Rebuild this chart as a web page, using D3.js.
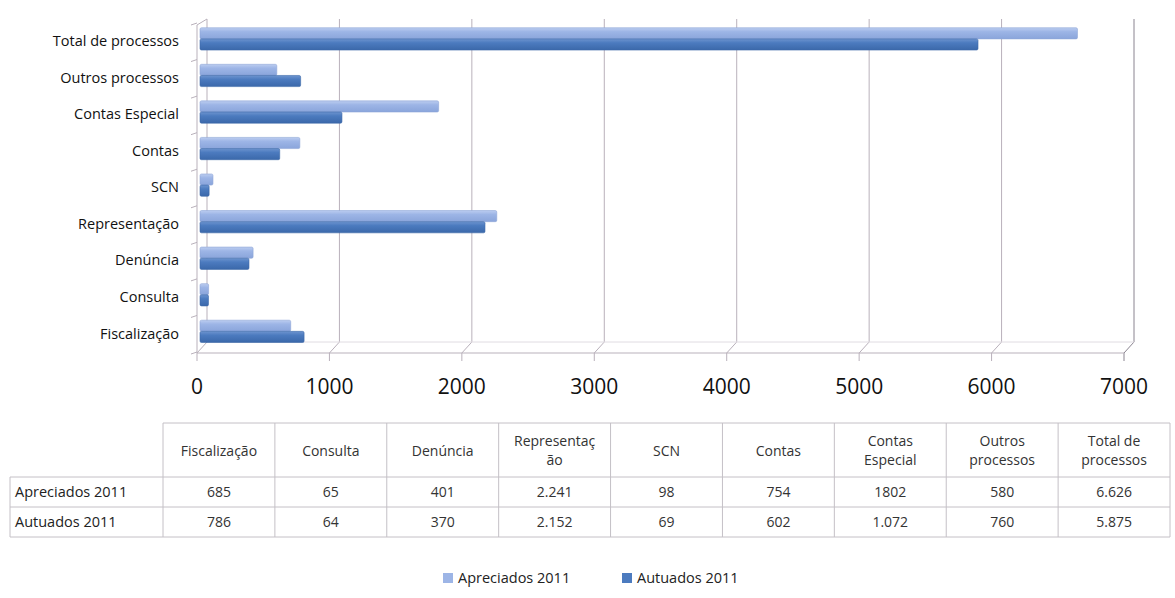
<!DOCTYPE html>
<html>
<head>
<meta charset="utf-8">
<script src="https://cdn.jsdelivr.net/npm/d3@7"></script>
<style>
  html, body { margin: 0; padding: 0; background: #fff; }
  svg { display: block; font-family: "Open Sans", "Noto Sans", sans-serif; }
</style>
</head>
<body>
<svg id="chart" width="1175" height="598"></svg>
<script>
const categories = ["Fiscalização", "Consulta", "Denúncia", "Representação", "SCN", "Contas", "Contas Especial", "Outros processos", "Total de processos"];
const headerLabels = ["Fiscalização", "Consulta", "Denúncia", "Representaç\não", "SCN", "Contas", "Contas\nEspecial", "Outros\nprocessos", "Total de\nprocessos"];
const seriesNames = ["Apreciados 2011", "Autuados 2011"];
const apreciados = [685, 65, 401, 2241, 98, 754, 1802, 580, 6626];
const autuados = [786, 64, 370, 2152, 69, 602, 1072, 760, 5875];
const apreciadosText = ["685", "65", "401", "2.241", "98", "754", "1802", "580", "6.626"];
const autuadosText = ["786", "64", "370", "2.152", "69", "602", "1.072", "760", "5.875"];
const xTicks = [0, 1000, 2000, 3000, 4000, 5000, 6000, 7000];

const colors = ["#9db5e6", "#4c7bbf"];
const svg = d3.select("#chart");

const defs = svg.append("defs");
[["g0", "#bccdf0", "#9db5e6", "#8aa5db"], ["g1", "#6d94cf", "#4c7bbf", "#3b68aa"]].forEach(([id, a, b, c]) => {
  const g = defs.append("linearGradient").attr("id", id).attr("x1", 0).attr("y1", 0).attr("x2", 0).attr("y2", 1);
  g.append("stop").attr("offset", "0%").attr("stop-color", a);
  g.append("stop").attr("offset", "35%").attr("stop-color", b);
  g.append("stop").attr("offset", "100%").attr("stop-color", c);
});

const x = d3.scaleLinear().domain([0, 7000]).range([200, 1127]);
const y = d3.scaleBand().domain(categories.slice().reverse()).range([23, 352]);
const sub = d3.scaleBand().domain(seriesNames).range([y.bandwidth() * 0.13, y.bandwidth() * 0.74]);

const backTop = 19, backBottom = 342, front = 353, depthX = 7;

svg.append("g").selectAll("path").data(xTicks).join("path")
  .attr("d", d => `M${x(d) + depthX},${backTop} V${backBottom} L${x(d) - 3},${front} V${front + 8}`)
  .attr("fill", "none").attr("stroke", d => d === 7000 ? "#8a8490" : "#b9b1bb").attr("stroke-width", 1);

svg.append("path").attr("d", `M${x(0) - 3},${front} H${x(7000) - 3}`).attr("stroke", "#b9b1bb").attr("fill", "none");
svg.append("path").attr("d", `M${x(0) + depthX},${backBottom} H${x(7000) + depthX}`).attr("stroke", "#e0dce2").attr("fill", "none");

svg.append("path").attr("d", `M${x(0) - 3},${backTop + 6} L${x(0) + depthX},${backTop} M${x(0) - 3},${backTop + 6} V${front}`)
  .attr("stroke", "#b9b1bb").attr("fill", "none");
const bounds = categories.map(c => y(c)).concat([y.range()[1]]);
svg.append("g").selectAll("line").data(bounds).join("line")
  .attr("x1", x(0) - 9).attr("x2", x(0) - 3).attr("y1", d => d + 2).attr("y2", d => d)
  .attr("stroke", "#b9b1bb");

const seriesData = [apreciados, autuados];
seriesData.forEach((vals, si) => {
  svg.append("g").selectAll("rect").data(categories).join("rect")
    .attr("x", x(0))
    .attr("y", c => y(c) + sub(seriesNames[si]))
    .attr("width", (c, i) => x(vals[i]) - x(0))
    .attr("height", sub.bandwidth())
    .attr("rx", 1.5)
    .attr("fill", `url(#g${si})`)
    .attr("stroke", si === 0 ? "#8ea6d6" : "#3e6aa9").attr("stroke-width", 0.6);
});

svg.append("g").selectAll("text").data(categories).join("text")
  .attr("x", 179).attr("y", c => y(c) + y.bandwidth() / 2 + 1)
  .attr("text-anchor", "end").attr("dominant-baseline", "middle")
  .attr("font-size", 14.5).attr("fill", "#111").text(c => c);

svg.append("g").selectAll("text").data(xTicks).join("text")
  .attr("x", d => x(d) - 3).attr("y", 388)
  .attr("text-anchor", "middle").attr("dominant-baseline", "middle")
  .attr("font-size", 21).attr("fill", "#111").text(d => d);

const col = d3.scaleBand().domain(categories).range([163, 1170]);
const labelLeft = 10;
const rowTop = [423, 477, 507, 537];
const tbl = svg.append("g").attr("font-size", 14).attr("fill", "#333");
const gridColor = "#c4c0c6";
categories.forEach(c => {
  tbl.append("line").attr("x1", col(c)).attr("x2", col(c)).attr("y1", rowTop[0]).attr("y2", rowTop[3]).attr("stroke", gridColor);
});
tbl.append("line").attr("x1", 1170).attr("x2", 1170).attr("y1", rowTop[0]).attr("y2", rowTop[3]).attr("stroke", gridColor);
tbl.append("line").attr("x1", labelLeft).attr("x2", labelLeft).attr("y1", rowTop[1]).attr("y2", rowTop[3]).attr("stroke", gridColor);
tbl.append("line").attr("x1", col(categories[0])).attr("x2", 1170).attr("y1", rowTop[0]).attr("y2", rowTop[0]).attr("stroke", gridColor);
rowTop.slice(1).forEach(r => {
  tbl.append("line").attr("x1", labelLeft).attr("x2", 1170).attr("y1", r).attr("y2", r).attr("stroke", gridColor);
});
categories.forEach((c, i) => {
  const lines = headerLabels[i].split("\n");
  const cy = (rowTop[0] + rowTop[1]) / 2 + 2;
  const t = tbl.append("text").attr("x", col(c) + col.bandwidth() / 2).attr("text-anchor", "middle");
  lines.forEach((l, li) => {
    t.append("tspan").attr("x", col(c) + col.bandwidth() / 2)
      .attr("y", cy + (li - (lines.length - 1) / 2) * 19)
      .attr("dominant-baseline", "middle").text(l);
  });
});
[apreciadosText, autuadosText].forEach((vals, ri) => {
  const cy = (rowTop[ri + 1] + rowTop[ri + 2]) / 2 + 1;
  tbl.append("text").attr("x", labelLeft + 5).attr("y", cy).attr("dominant-baseline", "middle")
    .attr("font-size", 14.5).attr("fill", "#222").text(seriesNames[ri]);
  categories.forEach((c, i) => {
    tbl.append("text").attr("x", col(c) + col.bandwidth() / 2).attr("y", cy)
      .attr("text-anchor", "middle").attr("dominant-baseline", "middle").text(vals[i]);
  });
});

const legX = [443, 622];
const leg = svg.append("g");
seriesNames.forEach((s, i) => {
  leg.append("rect").attr("x", legX[i]).attr("y", 573).attr("width", 10).attr("height", 10).attr("fill", colors[i]);
  leg.append("text").attr("x", legX[i] + 15).attr("y", 579).attr("dominant-baseline", "middle")
    .attr("font-size", 14.5).attr("fill", "#222").text(s);
});
</script>
</body>
</html>
